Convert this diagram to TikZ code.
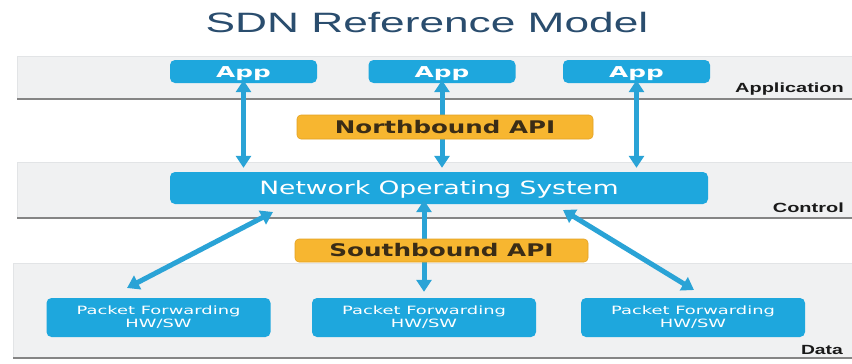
\documentclass[tikz,border=0pt]{standalone}
\usepackage{fontspec}
\usepackage{graphicx}
\setmainfont{Liberation Sans}
\newfontfamily\dvfont{DejaVu Sans}
\usetikzlibrary{arrows.meta,calc}
\definecolor{titleblue}{HTML}{2A4D6E}
\definecolor{boxblue}{HTML}{1EA7DD}
\definecolor{arrowblue}{HTML}{2AA3D6}
\definecolor{apiorange}{HTML}{F7B630}
\definecolor{apiedge}{HTML}{E3A224}
\definecolor{apitext}{HTML}{3A2C16}
\definecolor{bandgray}{HTML}{F0F1F2}
\definecolor{bandedge}{HTML}{E2E4E6}
\definecolor{linegray}{HTML}{858585}
\definecolor{labeltext}{HTML}{1A1A1A}
\newcommand\xstr[2]{\scalebox{#1}[1]{#2}}
\begin{document}
\begin{tikzpicture}[x=1pt,y=-1pt,
  band/.style={fill=bandgray, draw=bandedge, line width=0.6pt},
  bandline/.style={draw=linegray, line width=2.5pt},
  bluebox/.style={fill=boxblue, rounded corners=5pt, inner sep=0pt, text=white},
  apibox/.style={fill=apiorange, draw=apiedge, line width=0.6pt, rounded corners=4pt, inner sep=0pt, text=apitext,
    font=\dvfont\bfseries\fontsize{17.4}{20}\selectfont, text height=12.7pt, text depth=0pt},
  appbox/.style={bluebox, minimum width=147pt, minimum height=23pt, text height=11pt, text depth=0pt,
    font=\dvfont\bfseries\fontsize{15}{18}\selectfont},
  pfbox/.style={bluebox, minimum width=224pt, minimum height=39pt, align=center,
    font=\dvfont\fontsize{11.4}{13}\selectfont},
  link/.style={draw=arrowblue, line width=5pt,
    {Triangle[width=15pt,length=12pt]}-{Triangle[width=15pt,length=12pt]}},
  layerlabel/.style={anchor=base east, inner sep=0pt, text=labeltext,
    font=\bfseries\fontsize{13.3}{15}\selectfont}]
\useasboundingbox[fill=white] (0,0) rectangle (852,364);

% layer bands
\fill[bandgray] (17,56) rectangle (852,99);
\draw[bandedge, line width=0.6pt] (852,56) -- (17,56) -- (17,99);
\draw[bandline] (17,99) -- (852,99);
\fill[bandgray] (17,162) rectangle (852,218);
\draw[bandedge, line width=0.6pt] (852,162) -- (17,162) -- (17,218);
\draw[bandline] (17,218) -- (852,218);
\fill[bandgray] (13,263) rectangle (852,358);
\draw[bandedge, line width=0.6pt] (852,263) -- (13,263) -- (13,358);
\draw[bandline] (13,358) -- (852,358);

% title
\node[anchor=base, inner sep=0pt, text=titleblue, font=\fontsize{28}{32}\selectfont] (title) at (427,32) {\xstr{1.58}{SDN Reference Model}};

% boxes
\node[appbox] (app1) at (243.5,71.5) {\xstr{1.65}{App}};
\node[appbox] (app2) at (442,71.5) {\xstr{1.65}{App}};
\node[appbox] (app3) at (636.5,71.5) {\xstr{1.65}{App}};
\node[bluebox, minimum width=538pt, minimum height=32pt, text height=13.3pt, text depth=0pt,
  font=\dvfont\fontsize{18.3}{22}\selectfont] (nos) at (439,188) {\xstr{1.45}{Network Operating System}};
\node[pfbox] (pf1) at (158.5,317.5) {\xstr{1.57}{Packet Forwarding}\\\xstr{1.57}{HW/SW}};
\node[pfbox] (pf2) at (424,317.5) {\xstr{1.57}{Packet Forwarding}\\\xstr{1.57}{HW/SW}};
\node[pfbox] (pf3) at (693,317.5) {\xstr{1.57}{Packet Forwarding}\\\xstr{1.57}{HW/SW}};

% connectors
\draw[link, shorten <=-3pt, shorten >=4pt] (app1.south) -- (app1.south |- nos.north);
\draw[link, shorten <=-3pt, shorten >=4pt] (app2.south) -- (app2.south |- nos.north);
\draw[link, shorten <=-3pt, shorten >=4pt] (app3.south) -- (app3.south |- nos.north);
\coordinate (nosL) at (273,212);
\coordinate (pf1t) at (127,288);
\coordinate (nosR) at (563,210);
\coordinate (pf3t) at (694,290);
\draw[link] (nosL) -- (pf1t);
\draw[link, shorten <=-4pt, shorten >=6pt] (pf2.north |- nos.south) -- (pf2.north);
\draw[link] (nosR) -- (pf3t);

% API boxes (over the middle arrows)
\node[apibox, minimum width=296pt, minimum height=24pt] (nb) at (445,127) {\xstr{1.41}{Northbound API}};
\node[apibox, minimum width=293pt, minimum height=23pt] (sb) at (441.5,250.5) {\xstr{1.42}{Southbound API}};

% layer labels
\node[layerlabel] (lapp) at (844,92) {\xstr{1.5}{Application}};
\node[layerlabel] (lctl) at (844,212) {\xstr{1.5}{Control}};
\node[layerlabel] (ldat) at (843,354) {\xstr{1.45}{Data}};
\end{tikzpicture}
\end{document}
